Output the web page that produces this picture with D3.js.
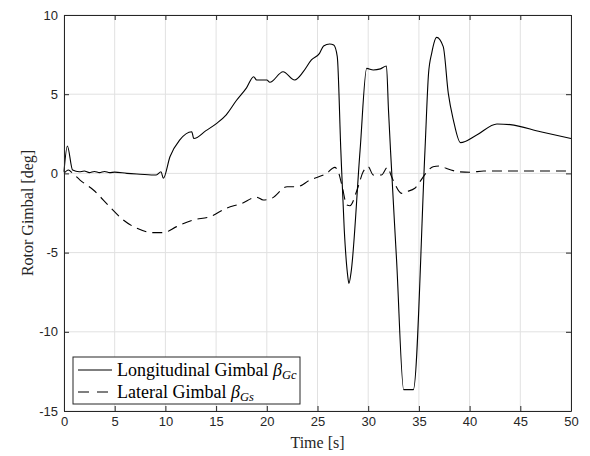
<!DOCTYPE html>
<html>
<head>
<meta charset="utf-8">
<script src="https://cdn.jsdelivr.net/npm/d3@7"></script>
<style>
  body { margin: 0; background: #fff; }
  .tick text { font-family: "Liberation Sans", Arial, sans-serif; font-size: 13px; fill: #262626; }
  .lbl { font-family: "Liberation Serif", "DejaVu Serif", serif; font-size: 16px; fill: #262626; }
  .leg { font-family: "Liberation Serif", "DejaVu Serif", serif; font-size: 18px; fill: #000; }
</style>
</head>
<body>
<script>
// longitudinal gimbal (solid)
var tLong = [0, 0.33, 0.85, 1.5, 2, 2.5, 3, 3.5, 4, 4.5, 5, 6.2, 7.5, 9.1, 9.57, 9.8, 10.45, 11.4, 12.6, 12.8,
  14, 15.06, 16, 17, 18, 18.7, 19.0, 20.0, 20.3, 21.6, 22.75, 23.6, 24.4, 25.2, 25.6, 26.2, 26.6, 26.95,
  27.3, 27.64, 27.95, 28.1, 28.3, 29.2, 29.85, 30.5, 31.2, 31.8, 32.0, 32.2, 32.8, 33.5, 34.45,
  35.6, 35.95, 36.26, 36.75, 37.4, 37.9, 38.4, 39.1, 40.7, 42.7, 44, 47, 50];
var vLong = [0.1, 1.73, 0.21, 0.1, 0.15, 0.05, 0.12, 0.05, 0.12, 0.05, 0.08, 0, -0.05, -0.1, 0.1, -0.31, 1.05, 2.1, 2.63, 2.2,
  2.7, 3.16, 3.7, 4.6, 5.4, 6.1, 5.9, 5.9, 5.75, 6.42, 5.9, 6.42, 7.16, 7.58, 8.04, 8.17, 8.1, 7.37,
  1.47, -3.57, -6.3, -6.94, -6.3, 1.47, 6.63, 6.53, 6.6, 6.78, 4.0, 1.47, -5.5, -13.65, -13.65,
  1.47, 6.3, 7.58, 8.59, 8.0, 5.05, 3.37, 1.94, 2.42, 3.12, 3.08, 2.63, 2.2];

// lateral gimbal (dashed)
var tLat = [0, 0.43, 0.86, 1.58, 2.9, 4.5, 5.85, 7.2, 8.8, 9.8, 11.1, 12.75, 14.4, 16.0, 17.5, 19.0, 19.65, 20.5,
  22, 23, 24.25, 25.9, 26.7, 27.05, 27.4, 27.9, 28.2, 28.9, 29.5, 30.0, 30.5, 31.3, 31.9, 32.3, 32.6, 33.3,
  33.8, 34.6, 35.1, 35.8, 36.4, 37.1, 37.7, 39.0, 40.1, 41.4, 50];
var vLat = [0, 0.21, 0, -0.42, -1.05, -2.1, -2.94, -3.47, -3.74, -3.74, -3.36, -2.94, -2.73, -2.2, -1.9, -1.5, -1.68, -1.57,
  -0.84, -0.84, -0.42, 0, 0.38, 0.1, -0.73, -2.0, -2.04, -1.05, 0.1, 0.42, -0.1, -0.1, 0.38, -0.2, -0.63, -1.26,
  -1.15, -0.94, -0.52, 0.1, 0.42, 0.47, 0.32, 0.1, 0.07, 0.15, 0.15];

var xTicks = [0, 5, 10, 15, 20, 25, 30, 35, 40, 45, 50];
var yTicks = [-15, -10, -5, 0, 5, 10];

var width = 590, height = 456;
var margin = {top: 15, right: 19, bottom: 45, left: 64};
var w = width - margin.left - margin.right,
    h = height - margin.top - margin.bottom;

var svg = d3.select("body").append("svg")
    .attr("width", width)
    .attr("height", height);

var g = svg.append("g")
    .attr("transform", "translate(" + margin.left + "," + margin.top + ")");

var x = d3.scaleLinear().domain([0, 50]).range([0, w]);
var y = d3.scaleLinear().domain([-15, 10]).range([h, 0]);

// grid
g.selectAll(".gx").data(xTicks).enter().append("line")
    .attr("x1", d => x(d)).attr("x2", d => x(d))
    .attr("y1", 0).attr("y2", h)
    .attr("stroke", "#e1e1e1").attr("stroke-width", 1);
g.selectAll(".gy").data(yTicks).enter().append("line")
    .attr("y1", d => y(d)).attr("y2", d => y(d))
    .attr("x1", 0).attr("x2", w)
    .attr("stroke", "#e1e1e1").attr("stroke-width", 1);

var line = d3.line()
    .x(d => x(d[0]))
    .y(d => y(d[1]))
    .curve(d3.curveMonotoneX);

g.append("path")
    .datum(tLong.map((t, i) => [t, vLong[i]]))
    .attr("d", line)
    .attr("fill", "none")
    .attr("stroke", "#000")
    .attr("stroke-width", 1.1);

g.append("path")
    .datum(tLat.map((t, i) => [t, vLat[i]]))
    .attr("d", line)
    .attr("fill", "none")
    .attr("stroke", "#000")
    .attr("stroke-width", 1.1)
    .attr("stroke-dasharray", "10,6");

// axes, ticks inside on all sides
function style(sel) {
  sel.select(".domain").attr("stroke", "#262626");
  sel.selectAll(".tick line").attr("stroke", "#262626");
}
var fmt = d => String(d);
g.append("g").attr("transform", "translate(0," + h + ")")
    .call(d3.axisBottom(x).tickValues(xTicks).tickFormat(fmt).tickSizeInner(-5).tickSizeOuter(0).tickPadding(6))
    .call(style);
g.append("g")
    .call(d3.axisTop(x).tickValues(xTicks).tickSizeInner(-5).tickSizeOuter(0).tickFormat(""))
    .call(style);
g.append("g")
    .call(d3.axisLeft(y).tickValues(yTicks).tickFormat(fmt).tickSizeInner(-5).tickSizeOuter(0).tickPadding(6))
    .call(style);
g.append("g").attr("transform", "translate(" + w + ",0)")
    .call(d3.axisRight(y).tickValues(yTicks).tickSizeInner(-5).tickSizeOuter(0).tickFormat(""))
    .call(style);

// axis labels
svg.append("text").attr("class", "lbl")
    .attr("x", margin.left + w / 2).attr("y", 448)
    .attr("text-anchor", "middle")
    .text("Time [s]");
svg.append("text").attr("class", "lbl")
    .attr("transform", "translate(33," + (margin.top + h / 2) + ") rotate(-90)")
    .attr("text-anchor", "middle")
    .text("Rotor Gimbal [deg]");

// legend
var leg = svg.append("g").attr("transform", "translate(73,357)");
leg.append("rect")
    .attr("width", 227).attr("height", 47)
    .attr("fill", "#fff").attr("stroke", "#262626").attr("stroke-width", 1);
var items = [
  {name: "Longitudinal Gimbal ", sub: "Gc", dash: null},
  {name: "Lateral Gimbal ", sub: "Gs", dash: "11,8"}
];
items.forEach(function(d, i) {
  var yy = 13 + i * 22;
  leg.append("line")
      .attr("x1", 5).attr("x2", 39).attr("y1", yy).attr("y2", yy)
      .attr("stroke", "#000").attr("stroke-width", 1.1)
      .attr("stroke-dasharray", d.dash);
  var t = leg.append("text").attr("class", "leg")
      .attr("x", 44).attr("y", yy + 5.5);
  t.append("tspan").text(d.name);
  t.append("tspan").attr("font-style", "italic").text("β");
  t.append("tspan").attr("font-style", "italic").attr("font-size", "12.5px")
      .attr("dy", 3.5).text(d.sub);
});
</script>
</body>
</html>
